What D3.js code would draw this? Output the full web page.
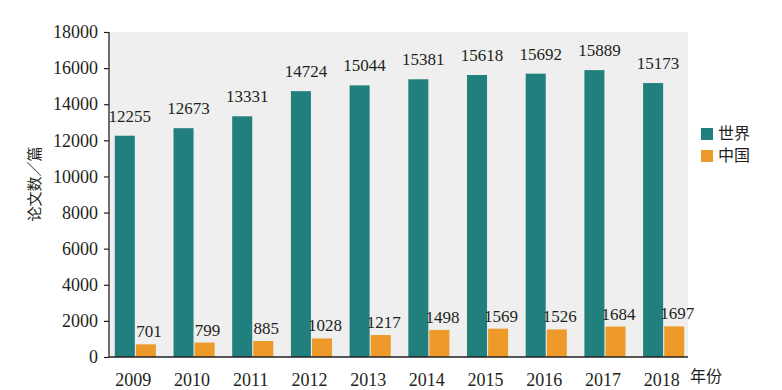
<!DOCTYPE html>
<html>
<head>
<meta charset="utf-8">
<script src="https://cdn.jsdelivr.net/npm/d3@7"></script>
<style>
body { margin: 0; background: #fff; }
text { font-family: "Times New Roman", "Liberation Serif", "DejaVu Serif", serif; fill: #231f20; }
text.cjk { font-family: "Noto Sans CJK SC", sans-serif; }
</style>
</head>
<body>
<svg width="782" height="390"></svg>
<script>
var years = ["2009", "2010", "2011", "2012", "2013", "2014", "2015", "2016", "2017", "2018"];
var world = [12255, 12673, 13331, 14724, 15044, 15381, 15618, 15692, 15889, 15173];
var china = [701, 799, 885, 1028, 1217, 1498, 1569, 1526, 1684, 1697];
var seriesNames = ["世界", "中国"];
var yTicks = [0, 2000, 4000, 6000, 8000, 10000, 12000, 14000, 16000, 18000];

var colors = { "世界": "#217f7e", "中国": "#ed9a2a" };
var serif = "'Times New Roman', 'Liberation Serif', serif";

var svg = d3.select("svg");
var plot = { left: 110, right: 688, top: 32, bottom: 357 };

var y = d3.scaleLinear().domain([0, 18000]).range([plot.bottom, plot.top]);
var x0 = d3.scaleBand().domain(years).range([106, 693]).paddingInner(0.3).paddingOuter(0.15);
var x1 = d3.scaleBand().domain(seriesNames).range([0, x0.bandwidth()]).paddingInner(0.05);

// background
svg.append("rect")
    .attr("x", plot.left).attr("y", plot.top)
    .attr("width", plot.right - plot.left).attr("height", plot.bottom - plot.top)
    .attr("fill", "#eeefee");

var data = years.map(function (d, i) {
    return { year: d, values: [{ k: "世界", v: world[i] }, { k: "中国", v: china[i] }] };
});

var grp = svg.selectAll(".grp")
    .data(data)
    .enter().append("g")
    .attr("class", "grp")
    .attr("transform", function (d) { return "translate(" + x0(d.year) + ",0)"; });

grp.selectAll("rect")
    .data(function (d) { return d.values; })
    .enter().append("rect")
    .attr("x", function (d) { return x1(d.k); })
    .attr("y", function (d) { return y(d.v); })
    .attr("width", x1.bandwidth())
    .attr("height", function (d) { return plot.bottom - y(d.v); })
    .attr("fill", function (d) { return colors[d.k]; });

grp.selectAll(".val")
    .data(function (d) { return d.values; })
    .enter().append("text")
    .attr("class", "val")
    .attr("x", function (d) { return x1(d.k) + x1.bandwidth() / 2 + (d.k === "世界" ? 5 : 3); })
    .attr("y", function (d) { return y(d.v) - (d.k === "世界" ? 14 : 7); })
    .attr("text-anchor", "middle")
    .attr("font-size", "17px")
    .text(function (d) { return d.v; });

// y axis
var yAxis = svg.append("g")
    .attr("transform", "translate(" + (plot.left - 1) + ",0)")
    .call(d3.axisLeft(y).tickValues(yTicks).tickSize(5).tickPadding(6).tickFormat(d3.format("d")));
yAxis.attr("font-family", serif);
yAxis.select(".domain").attr("stroke", "#231f20").attr("stroke-width", 1.3)
    .attr("d", "M0," + plot.top + "V" + plot.bottom);
yAxis.selectAll(".tick line").attr("stroke", "#231f20").attr("stroke-width", 1.2);
yAxis.selectAll(".tick text").attr("font-size", "18px").attr("fill", "#231f20");

// x axis
var xAxis = svg.append("g")
    .attr("transform", "translate(0," + plot.bottom + ")")
    .call(d3.axisBottom(x0).tickSize(0).tickPadding(16));
xAxis.attr("font-family", serif);
xAxis.select(".domain").attr("stroke", "#231f20").attr("stroke-width", 1.3)
    .attr("d", "M" + (plot.left - 1) + ",0H" + plot.right);
xAxis.selectAll(".tick text").attr("font-size", "18px").attr("fill", "#231f20")
    .attr("dx", -2);

svg.append("text")
    .attr("class", "cjk")
    .attr("x", 690).attr("y", 382)
    .attr("font-size", "16px")
    .text("年份");

svg.append("text")
    .attr("class", "cjk")
    .attr("transform", "translate(40,184) rotate(-90)")
    .attr("text-anchor", "middle")
    .attr("font-size", "15px")
    .text("论文数／篇");

// legend
var leg = svg.selectAll(".leg")
    .data(seriesNames)
    .enter().append("g")
    .attr("class", "leg")
    .attr("transform", function (d, i) { return "translate(701," + (128 + i * 22) + ")"; });
leg.append("rect").attr("width", 12).attr("height", 12).attr("fill", function (d) { return colors[d]; });
leg.append("text").attr("class", "cjk").attr("x", 17).attr("y", 11).attr("font-size", "16px")
    .text(function (d) { return d; });
</script>
</body>
</html>
